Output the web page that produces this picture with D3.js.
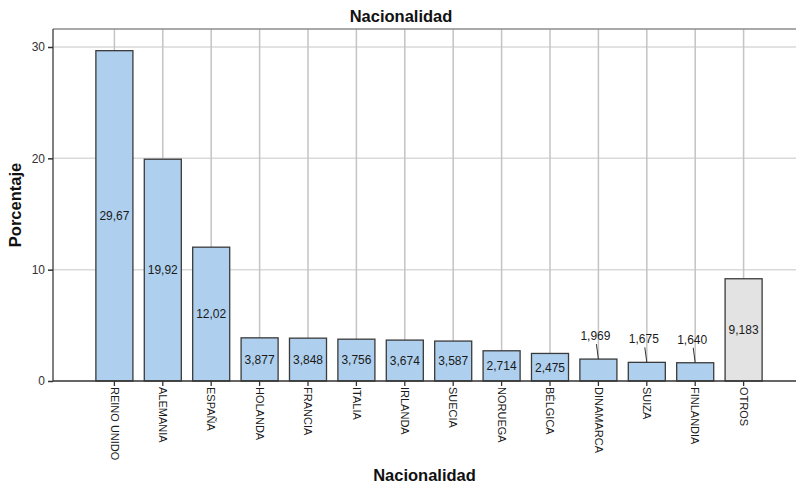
<!DOCTYPE html>
<head>
  <meta charset="utf-8">
  <script src="https://d3js.org/d3.v7.min.js"></script>
  <style>
    body { margin: 0; background: #fff; }
    svg { width: 796px; height: 484px; display: block; }
    text { font-family: "Liberation Sans", Arial, sans-serif; }
  </style>
</head>

<body>
  <svg></svg>

  <script>
    const width = 796;
    const height = 484;

    // data
    const categories = ['REINO UNIDO', 'ALEMANIA', 'ESPAÑA', 'HOLANDA', 'FRANCIA', 'ITALIA',
      'IRLANDA', 'SUECIA', 'NORUEGA', 'BÉLGICA', 'DINAMARCA', 'SUIZA', 'FINLANDIA', 'OTROS'];
    const percentages = [29.67, 19.92, 12.02, 3.877, 3.848, 3.756, 3.674, 3.587, 2.714, 2.475,
      1.969, 1.675, 1.640, 9.183];
    const valueLabels = ['29,67', '19,92', '12,02', '3,877', '3,848', '3,756', '3,674', '3,587',
      '2,714', '2,475', '1,969', '1,675', '1,640', '9,183'];
    const yTicks = [0, 10, 20, 30];

    const bars = categories.map((c, i) => ({
      cat: c,
      value: percentages[i],
      label: valueLabels[i],
    }));

    const plot = { left: 53, top: 29, right: 805, bottom: 381 };

    const x = d3.scaleBand()
      .domain(categories)
      .range([plot.left, plot.right])
      .paddingInner(0.235)
      .paddingOuter(0.886);

    const y = d3.scaleLinear()
      .domain([0, 30])
      .range([plot.bottom, 47]);

    const svg = d3.select('svg');

    // horizontal grid
    svg.append('g')
      .selectAll('line')
      .data(yTicks.filter(t => t > 0))
      .join('line')
      .attr('x1', plot.left).attr('x2', width)
      .attr('y1', d => y(d)).attr('y2', d => y(d))
      .attr('stroke', '#d9d9d9')
      .attr('stroke-width', 1.5);

    // vertical grid at each category
    svg.append('g')
      .selectAll('line')
      .data(categories)
      .join('line')
      .attr('x1', d => x(d) + x.bandwidth() / 2)
      .attr('x2', d => x(d) + x.bandwidth() / 2)
      .attr('y1', plot.top).attr('y2', plot.bottom)
      .attr('stroke', '#c4c4c4')
      .attr('stroke-width', 1.5);

    // frame top
    svg.append('line')
      .attr('x1', plot.left).attr('x2', width)
      .attr('y1', plot.top).attr('y2', plot.top)
      .attr('stroke', '#8c8c8c')
      .attr('stroke-width', 1.5);

    // bars
    svg.append('g')
      .selectAll('rect')
      .data(bars)
      .join('rect')
      .attr('x', d => x(d.cat))
      .attr('width', x.bandwidth())
      .attr('y', d => y(d.value))
      .attr('height', d => y(0) - y(d.value))
      .attr('fill', d => d.cat === 'OTROS' ? '#e3e3e3' : '#aed0ee')
      .attr('stroke', '#3a3a3a')
      .attr('stroke-width', 1.3);

    // value labels: inside the bar if it fits, above with a leader line otherwise
    const fits = d => y(0) - y(d.value) > 25;
    const labels = svg.append('g')
      .attr('font-size', 12)
      .attr('fill', '#1a1a1a');

    labels.selectAll('text.in')
      .data(bars.filter(fits))
      .join('text')
      .attr('class', 'in')
      .attr('x', d => x(d.cat) + x.bandwidth() / 2)
      .attr('y', d => (y(d.value) + y(0)) / 2)
      .attr('dy', '0.36em')
      .attr('text-anchor', 'middle')
      .text(d => d.label);

    const outside = bars.filter(d => !fits(d));
    labels.selectAll('line')
      .data(outside)
      .join('line')
      .attr('x1', d => x(d.cat) + x.bandwidth() / 2)
      .attr('x2', d => x(d.cat) + x.bandwidth() / 2 - 2)
      .attr('y1', d => y(d.value))
      .attr('y2', d => y(d.value) - 15)
      .attr('stroke', '#333')
      .attr('stroke-width', 1);

    labels.selectAll('text.out')
      .data(outside)
      .join('text')
      .attr('class', 'out')
      .attr('x', d => x(d.cat) + x.bandwidth() / 2 - 3)
      .attr('y', d => y(d.value) - 19)
      .attr('text-anchor', 'middle')
      .text(d => d.label);

    // y axis
    const yAxis = svg.append('g')
      .attr('transform', `translate(${plot.left},0)`)
      .call(d3.axisLeft(y).tickValues(yTicks).tickSize(5).tickPadding(3));
    yAxis.select('.domain').attr('d', `M0,${plot.top}V${plot.bottom}`)
      .attr('stroke', '#555').attr('stroke-width', 1.5);
    yAxis.selectAll('.tick line').attr('stroke', '#333').attr('stroke-width', 1.5);
    yAxis.selectAll('text').attr('font-size', 12).attr('fill', '#333')
      .style('font-family', '"Liberation Sans", Arial, sans-serif');

    // x axis
    const xAxis = svg.append('g')
      .attr('transform', `translate(0,${plot.bottom})`)
      .call(d3.axisBottom(x).tickSize(5).tickPadding(2));
    xAxis.select('.domain').attr('d', `M${plot.left},0H${width}`)
      .attr('stroke', '#333').attr('stroke-width', 1.5);
    xAxis.selectAll('.tick line').attr('stroke', '#333').attr('stroke-width', 1.3);
    xAxis.selectAll('text')
      .attr('font-size', 11)
      .attr('fill', '#1a1a1a')
      .style('font-family', '"Liberation Sans", Arial, sans-serif')
      .attr('transform', 'rotate(90)')
      .attr('text-anchor', 'start')
      .attr('x', 6)
      .attr('y', 0)
      .attr('dy', '0.35em');

    // titles
    svg.append('text')
      .attr('x', 401).attr('y', 21.5)
      .attr('text-anchor', 'middle')
      .attr('font-size', 16.5).attr('font-weight', 'bold').attr('fill', '#111')
      .text('Nacionalidad');

    svg.append('text')
      .attr('x', (plot.left + width) / 2).attr('y', 481)
      .attr('text-anchor', 'middle')
      .attr('font-size', 16.5).attr('font-weight', 'bold').attr('fill', '#111')
      .text('Nacionalidad');

    svg.append('text')
      .attr('transform', `translate(21,${(plot.top + plot.bottom) / 2})rotate(-90)`)
      .attr('text-anchor', 'middle')
      .attr('font-size', 16.5).attr('font-weight', 'bold').attr('fill', '#111')
      .text('Porcentaje');
  </script>
</body>
